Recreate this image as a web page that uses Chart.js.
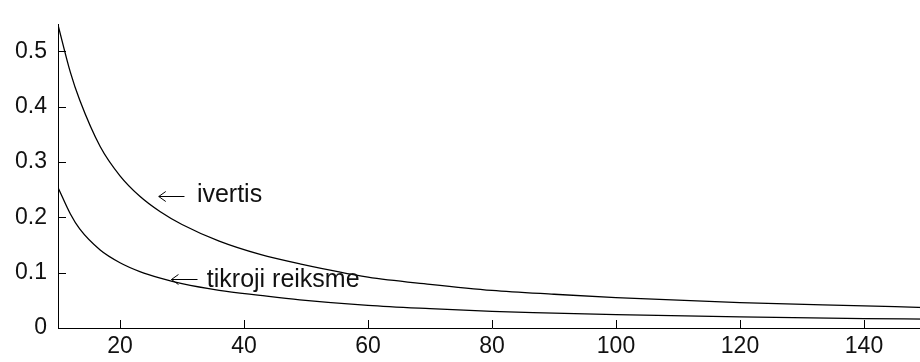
<!DOCTYPE html>
<html>
<head>
<meta charset="utf-8">
<script src="https://cdn.jsdelivr.net/npm/chart.js@4"></script>
<style>
  html, body { margin: 0; padding: 0; background: #fff; overflow: hidden; }
  #wrap { position: relative; width: 940px; height: 362px; }
</style>
</head>
<body>
<div id="wrap"><canvas id="chart"></canvas></div>
<script>
// values
const xValues = [10, 12, 13.5, 16.8, 20, 23.2, 26.5, 30, 36, 42.6, 49, 60, 70, 80, 90, 100, 120, 140, 150];
const ivertis = [0.548, 0.462, 0.412, 0.328, 0.275, 0.238, 0.21, 0.187, 0.157, 0.133, 0.116, 0.092, 0.079, 0.068, 0.061, 0.055, 0.046, 0.04, 0.037];
const tikroji = [0.254, 0.206, 0.179, 0.141, 0.118, 0.102, 0.09, 0.08, 0.068, 0.059, 0.051, 0.041, 0.035, 0.03, 0.027, 0.024, 0.02, 0.017, 0.016];
const xTicks = [20, 40, 60, 80, 100, 120, 140];
const yTicks = [0, 0.1, 0.2, 0.3, 0.4, 0.5];

// arrow tip, arrow tail, text start / baseline, in data units
const notes = [
  { tip: 26.25, tail: 30.4, ay: 0.239, tx: 32.4, ty: 0.227, text: 'ivertis' },
  { tip: 28.3, tail: 32.5, ay: 0.088, tx: 34.0, ty: 0.075, text: 'tikroji reiksme' },
];

const FONT = 'Liberation Sans, Arial, sans-serif';

const toPoints = (ys) => xValues.map((x, i) => ({ x, y: ys[i] }));

// inward tick marks + arrow labels on the plot
const decorations = {
  id: 'decorations',
  afterDatasetsDraw(chart) {
    const { ctx, chartArea: a, scales: { x, y } } = chart;
    ctx.save();
    ctx.strokeStyle = '#000';
    ctx.lineWidth = 1;
    ctx.beginPath();
    for (const t of xTicks) {
      const px = Math.round(x.getPixelForValue(t)) + 0.5;
      ctx.moveTo(px, a.bottom);
      ctx.lineTo(px, a.bottom - 8);
    }
    for (const t of yTicks) {
      const py = Math.round(y.getPixelForValue(t)) + 0.5;
      ctx.moveTo(a.left, py);
      ctx.lineTo(a.left + 8, py);
    }
    ctx.stroke();

    ctx.fillStyle = '#111';
    ctx.font = '25px ' + FONT;
    ctx.textBaseline = 'alphabetic';
    ctx.textAlign = 'left';
    for (const n of notes) {
      const x0 = x.getPixelForValue(n.tip);
      const x1 = x.getPixelForValue(n.tail);
      const py = Math.round(y.getPixelForValue(n.ay)) + 0.5;
      ctx.beginPath();
      ctx.moveTo(x1, py);
      ctx.lineTo(x0, py);
      ctx.moveTo(x0 + 7, py - 5);
      ctx.lineTo(x0, py);
      ctx.lineTo(x0 + 7, py + 5);
      ctx.stroke();
      ctx.fillText(n.text, x.getPixelForValue(n.tx), y.getPixelForValue(n.ty));
    }
    ctx.restore();
  },
};

new Chart(document.getElementById('chart'), {
  type: 'line',
  data: {
    datasets: [
      { label: 'ivertis', data: toPoints(ivertis) },
      { label: 'tikroji reiksme', data: toPoints(tikroji) },
    ].map((d) => ({
      ...d,
      borderColor: '#000',
      borderWidth: 1.3,
      pointRadius: 0,
      fill: false,
      cubicInterpolationMode: 'monotone',
    })),
  },
  options: {
    responsive: true,
    maintainAspectRatio: false,
    animation: false,
    layout: { padding: { top: 12, right: 14, left: 0, bottom: 0 } },
    plugins: { legend: { display: false }, tooltip: { enabled: false } },
    scales: {
      x: {
        type: 'linear',
        min: 10,
        max: 150,
        afterBuildTicks: (s) => { s.ticks = xTicks.map((v) => ({ value: v })); },
        afterFit: (s) => { s.height = 34; },
        grid: { display: false, drawTicks: false },
        border: { display: true, color: '#000', width: 1 },
        ticks: { color: '#111', padding: 5, font: { family: FONT, size: 23 }, maxRotation: 0 },
      },
      y: {
        type: 'linear',
        min: 0,
        max: 0.548,
        afterBuildTicks: (s) => { s.ticks = yTicks.map((v) => ({ value: v })); },
        afterFit: (s) => { s.width = 58; },
        grid: { display: false, drawTicks: false },
        border: { display: true, color: '#000', width: 1 },
        ticks: { color: '#111', padding: 11, font: { family: FONT, size: 23 }, callback: (v) => String(v) },
      },
    },
  },
  plugins: [decorations],
});
</script>
</body>
</html>
